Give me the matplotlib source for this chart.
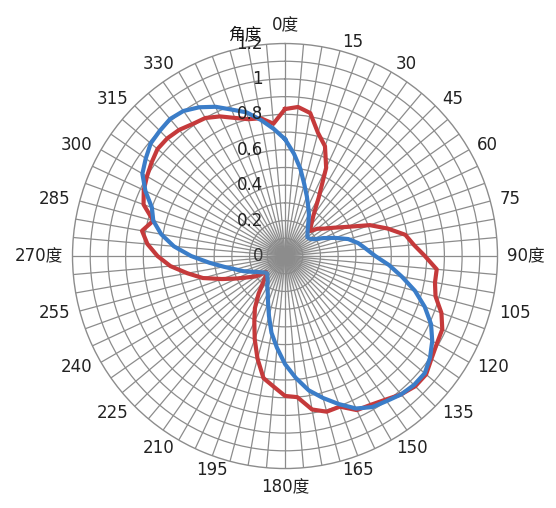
import numpy as np
import matplotlib
matplotlib.use('Agg')
import matplotlib.pyplot as plt
from matplotlib import transforms

plt.rcParams['font.family'] = ['DejaVu Sans', 'Noto Sans CJK SC']

# 角度 (度), 每 5 度一个点
angles = list(range(0, 360, 5))

# 实测值
measured = [0.83, 0.845, 0.82, 0.72, 0.66, 0.55, 0.38, 0.28, 0.23, 0.20, 0.24, 0.27,
            0.32, 0.39, 0.51, 0.60, 0.69, 0.73, 0.79, 0.86, 0.86, 0.88, 0.94, 0.98,
            0.99, 1.01, 1.04, 1.04, 1.02, 0.99, 0.97, 0.96, 0.905, 0.91, 0.88, 0.80,
            0.79, 0.74, 0.70, 0.60, 0.50, 0.41, 0.34, 0.26, 0.19, 0.15, 0.14, 0.20,
            0.24, 0.30, 0.38, 0.48, 0.56, 0.65, 0.72, 0.78, 0.82, 0.77, 0.85, 0.88,
            0.90, 0.92, 0.94, 0.94, 0.93, 0.91, 0.90, 0.87, 0.83, 0.80, 0.79, 0.75]

# 理论值
theory = [0.66, 0.58, 0.50, 0.42, 0.36, 0.31, 0.27, 0.23, 0.20, 0.18, 0.165, 0.17,
          0.19, 0.24, 0.30, 0.37, 0.42, 0.46, 0.51, 0.59, 0.67, 0.76, 0.84, 0.91,
          0.96, 1.00, 1.03, 1.03, 1.02, 1.00, 0.985, 0.95, 0.89, 0.83, 0.77, 0.69,
          0.61, 0.52, 0.44, 0.35, 0.28, 0.23, 0.20, 0.17, 0.155, 0.14, 0.145, 0.16,
          0.18, 0.21, 0.25, 0.29, 0.35, 0.43, 0.53, 0.63, 0.71, 0.77, 0.80, 0.87,
          0.93, 0.96, 0.99, 1.00, 1.01, 1.00, 0.97, 0.93, 0.88, 0.84, 0.78, 0.72]

label_angles = [0, 15, 30, 45, 60, 75, 90, 105, 120, 135, 150, 165,
                180, 195, 210, 225, 240, 255, 270, 285, 300, 315, 330]
label_texts = ['0度', '15', '30', '45', '60', '75', '90度', '105', '120', '135', '150', '165',
               '180度', '195', '210', '225', '240', '255', '270度', '285', '300', '315', '330']

r_ticks = [0, 0.2, 0.4, 0.6, 0.8, 1.0, 1.2]
r_labels = ['0', '0.2', '0.4', '0.6', '0.8', '1', '1.2']

GRID = '#8c8c8c'
RED = '#c53a3b'
BLUE = '#3b7dc8'

fig = plt.figure(figsize=(5.56, 5.08), dpi=100)
ax = fig.add_axes([0.1304, 0.0777, 0.7644, 0.8366], projection='polar')
ax.set_theta_zero_location('N')
ax.set_theta_direction(-1)
ax.set_ylim(0, 1.2)

# 辐射线每 5 度一条, 圆环每 0.1 一圈
ax.set_xticks(np.deg2rad(np.arange(0, 360, 5)))
ax.set_xticklabels([])
ax.set_yticks(np.arange(1, 12) / 10)
ax.set_yticklabels([])
ax.grid(True, color=GRID, linewidth=0.9)
ax.spines['polar'].set_color(GRID)
ax.spines['polar'].set_linewidth(1.0)
ax.tick_params(length=0)

# 闭合曲线
th = np.deg2rad(angles + [angles[0]])
ax.plot(th, measured + [measured[0]], color=RED, linewidth=3.0, zorder=4)
ax.plot(th, theory + [theory[0]], color=BLUE, linewidth=3.0, zorder=5)

# 中心处辐射线汇聚的灰色区域
blob = fig.add_axes([(285 - 40) / 556, 1 - (258 + 40) / 508, 80 / 556, 80 / 508])
yy, xx = np.mgrid[-40:40, -40:40] + 0.5
a = np.exp(-(xx ** 2 + yy ** 2) / (2 * 15.0 ** 2)) * 0.85
img = np.zeros((80, 80, 4))
img[..., :3] = 0.55
img[..., 3] = a
blob.imshow(img, interpolation='bilinear')
blob.axis('off')
blob.set_zorder(ax.get_zorder() + 0.5)
blob.patch.set_alpha(0)

# 角度标签
r_lab = 1.2 * 222.5 / 213
for ang, txt in zip(label_angles, label_texts):
    s, c = np.sin(np.deg2rad(ang)), np.cos(np.deg2rad(ang))
    ha = 'left' if s > 0.05 else ('right' if s < -0.05 else 'center')
    va = 'center'
    if abs(s) <= 0.05:
        va = 'bottom' if c > 0 else 'top'
    ax.text(np.deg2rad(ang), r_lab, txt, ha=ha, va=va, fontsize=12, color='#222222')

# 数值轴标签
off = transforms.offset_copy(ax.transData, fig=fig, x=-22, y=0, units='dots')
for r, txt in zip(r_ticks, r_labels):
    ax.text(0, r, txt, transform=off, ha='right', va='center', fontsize=12,
            color='#222222', zorder=6)

fig.text(245 / 556, 1 - 34 / 508, '角度', ha='center', va='center', fontsize=12, color='#111111')

fig.savefig('out.png', dpi=100, facecolor='white')
